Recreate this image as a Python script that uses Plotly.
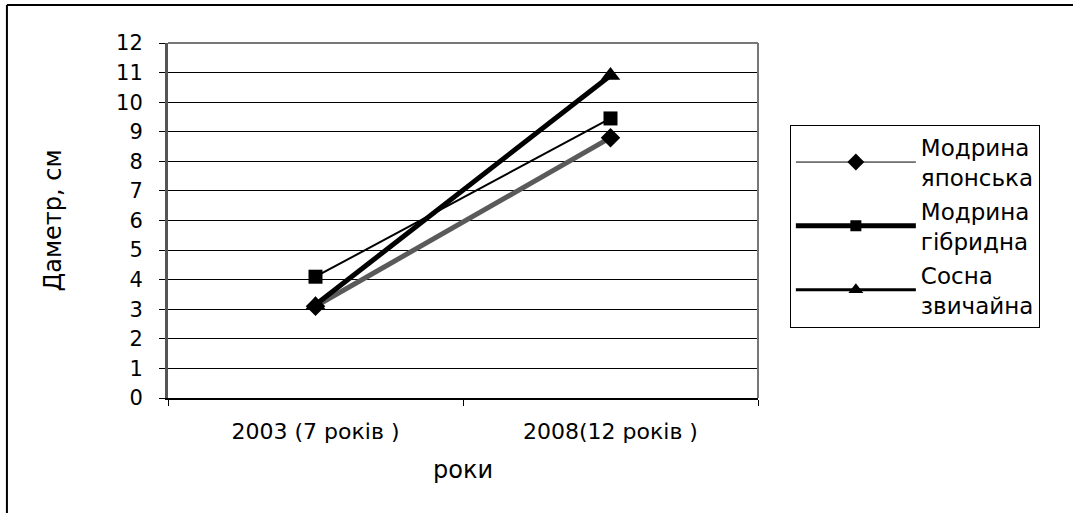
import plotly.graph_objects as go

categories = ["2003 (7 років )", "2008(12 років )"]
names = ["Модрина<br>японська", "Модрина<br>гібридна", "Сосна<br>звичайна"]
japonska = [3.1, 8.8]
gibrydna = [4.1, 9.45]
sosna = [3.15, 10.9]
y_ticks = list(range(0, 13))

FONT = "DejaVu Sans, Verdana, sans-serif"

fig = go.Figure()

# plotted series (styles as drawn in the chart)
fig.add_trace(go.Scatter(x=categories, y=japonska, mode="lines+markers", showlegend=False,
                         line=dict(color="#5a5a5a", width=5),
                         marker=dict(symbol="diamond", size=15, color="black")))
fig.add_trace(go.Scatter(x=categories, y=gibrydna, mode="lines+markers", showlegend=False,
                         line=dict(color="black", width=2),
                         marker=dict(symbol="square", size=14, color="black")))
fig.add_trace(go.Scatter(x=categories, y=sosna, mode="lines+markers", showlegend=False,
                         line=dict(color="black", width=5),
                         marker=dict(symbol="triangle-up", size=17, color="black")))

# legend entries (styles as shown in the legend)
fig.add_trace(go.Scatter(x=[None], y=[None], mode="lines+markers", name=names[0],
                         legendgroup="a",
                         line=dict(color="black", width=1),
                         marker=dict(symbol="diamond", size=13, color="black")))
fig.add_trace(go.Scatter(x=[None], y=[None], mode="lines+markers", name=names[1],
                         legendgroup="b",
                         line=dict(color="black", width=5),
                         marker=dict(symbol="square", size=11, color="black")))
fig.add_trace(go.Scatter(x=[None], y=[None], mode="lines+markers", name=names[2],
                         legendgroup="c",
                         line=dict(color="black", width=3),
                         marker=dict(symbol="triangle-up", size=13, color="black")))

fig.update_layout(
    width=1073, height=513,
    margin=dict(l=168, r=315, t=43, b=115),
    paper_bgcolor="white", plot_bgcolor="white",
    font=dict(family=FONT, color="black", size=20),
    legend=dict(x=1.054, y=0.77, xanchor="left", yanchor="top",
                bordercolor="black", borderwidth=1, bgcolor="white",
                font=dict(size=23, family=FONT), itemwidth=120,
                tracegroupgap=1),
    xaxis=dict(type="category", range=[-0.5, 1.5], tickson="boundaries",
               ticks="outside", ticklen=6, tickcolor="black",
               showline=True, linecolor="black", linewidth=2,
               mirror=False, showgrid=False, zeroline=False,
               ticklabelstandoff=13,
               tickfont=dict(size=22),
               title=dict(text="роки", font=dict(size=24), standoff=18)),
    yaxis=dict(range=[0, 12], tickvals=y_ticks, ticks="outside", ticklen=6,
               tickcolor="black", showline=True, linecolor="#555", linewidth=3,
               showgrid=True, gridcolor="black", gridwidth=1, zeroline=False,
               ticklabelstandoff=12, tickfont=dict(size=21),
               title=dict(text="Даметр, см", font=dict(size=24), standoff=48)),
    shapes=[
        # plot-area frame (top and right)
        dict(type="line", xref="paper", yref="paper", x0=0, x1=1, y0=1, y1=1,
             line=dict(color="#777", width=2)),
        dict(type="line", xref="paper", yref="paper", x0=1, x1=1, y0=0, y1=1,
             line=dict(color="#777", width=2)),
        # chart frame
        dict(type="line", xref="paper", yref="paper", x0=-0.273, x1=1.54,
             y0=1.107, y1=1.107, line=dict(color="black", width=2)),
        dict(type="line", xref="paper", yref="paper", x0=-0.273, x1=-0.273,
             y0=-0.35, y1=1.107, line=dict(color="black", width=2)),
    ],
)

fig.write_html("out.html")
